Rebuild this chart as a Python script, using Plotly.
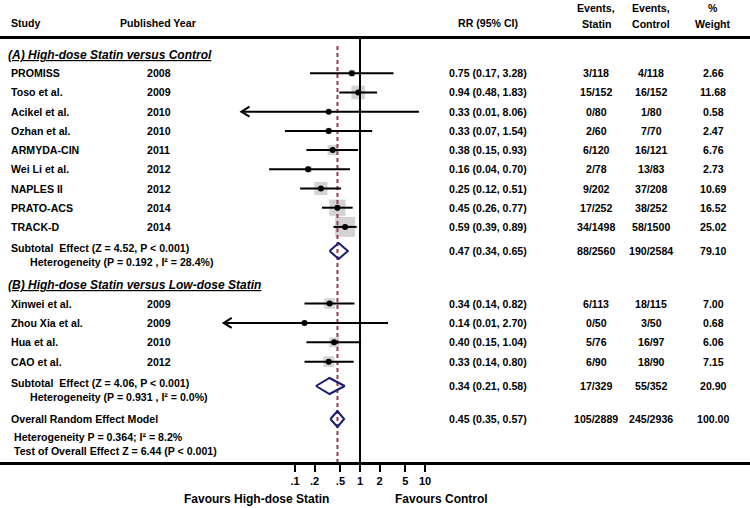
import math
import plotly.graph_objects as go

# ---------------- data ----------------
studies_A = ["PROMISS", "Toso et al.", "Acikel et al.", "Ozhan et al.", "ARMYDA-CIN",
             "Wei Li et al.", "NAPLES II", "PRATO-ACS", "TRACK-D"]
years_A = ["2008", "2009", "2010", "2010", "2011", "2012", "2012", "2014", "2014"]
rr_A = [0.75, 0.94, 0.33, 0.33, 0.38, 0.16, 0.25, 0.45, 0.59]
lo_A = [0.17, 0.48, 0.01, 0.07, 0.15, 0.04, 0.12, 0.26, 0.39]
hi_A = [3.28, 1.83, 8.06, 1.54, 0.93, 0.70, 0.51, 0.77, 0.89]
ev_statin_A = ["3/118", "15/152", "0/80", "2/60", "6/120", "2/78", "9/202", "17/252", "34/1498"]
ev_control_A = ["4/118", "16/152", "1/80", "7/70", "16/121", "13/83", "37/208", "38/252", "58/1500"]
weight_A = [2.66, 11.68, 0.58, 2.47, 6.76, 2.73, 10.69, 16.52, 25.02]
arrow_A = [None, None, 0.015, None, None, None, None, None, None]  # drawn arrow tip (clipped CI)

studies_B = ["Xinwei et al.", "Zhou Xia et al.", "Hua et al.", "CAO et al."]
years_B = ["2009", "2009", "2010", "2012"]
rr_B = [0.34, 0.14, 0.40, 0.33]
lo_B = [0.14, 0.01, 0.15, 0.14]
hi_B = [0.82, 2.70, 1.04, 0.80]
ev_statin_B = ["6/113", "0/50", "5/76", "6/90"]
ev_control_B = ["18/115", "3/50", "16/97", "18/90"]
weight_B = [7.00, 0.68, 6.06, 7.15]
arrow_B = [None, 0.008, None, None]

sub_A = dict(rr=0.47, lo=0.34, hi=0.65, es="88/2560", ec="190/2584", w=79.10,
             label="Subtotal  Effect (Z = 4.52, P < 0.001)",
             het="Heterogeneity (P = 0.192 , I² = 28.4%)")
sub_B = dict(rr=0.34, lo=0.21, hi=0.58, es="17/329", ec="55/352", w=20.90,
             label="Subtotal  Effect (Z = 4.06, P < 0.001)",
             het="Heterogeneity (P = 0.931 , I² = 0.0%)")
overall = dict(rr=0.45, lo=0.35, hi=0.57, es="105/2889", ec="245/2936", w=100.00,
               label="Overall Random Effect Model")
overall_notes = ["Heterogeneity P = 0.364; I² = 8.2%", "Test of Overall Effect Z = 6.44 (P < 0.001)"]

tick_vals = [0.1, 0.2, 0.5, 1, 2, 5, 10]
tick_text = [".1", ".2", ".5", "1", "2", "5", "10"]
favour_labels = ["Favours High-dose Statin", "Favours Control"]

# ---------------- layout constants (pixels) ----------------
W, H = 750, 508
AXIS_Y = 462
X_NULL_PX = 360
PX_PER_DEC = 65
rows_A = [73.3 + 19.2 * i for i in range(9)]
rows_B = [303.5 + 19.4 * i for i in range(4)]
Y_SEC_A, Y_SEC_B = 55, 285
Y_SUB_A, Y_SUB_B, Y_OVR = 251, 386, 419
FONT = "Liberation Sans, Arial, sans-serif"
FS = 10.6

X_STUDY, X_YEAR = 9, 145
X_RR, X_ES, X_EC, X_W = 488, 596, 651, 713


def px(x):
    return x / W


def py(y):
    return (AXIS_Y - y) / AXIS_Y


fig = go.Figure()

studies = studies_A + studies_B
years = years_A + years_B
rr = rr_A + rr_B
lo = lo_A + lo_B
hi = hi_A + hi_B
es = ev_statin_A + ev_statin_B
ec = ev_control_A + ev_control_B
wt = weight_A + weight_B
arr = arrow_A + arrow_B
rows = rows_A + rows_B

# weight boxes
fig.add_trace(go.Scatter(
    x=rr, y=rows, mode="markers",
    marker=dict(symbol="square", size=[4 * math.sqrt(w) for w in wt], color="#c0c0c0",
                line=dict(width=0)),
    hoverinfo="skip", showlegend=False))

# overall effect dashed line and null line
fig.add_trace(go.Scatter(x=[overall["rr"], overall["rr"]], y=[46, AXIS_Y], mode="lines",
                         line=dict(color="#9a3c48", width=2, dash="4px,3px"),
                         hoverinfo="skip", showlegend=False))
fig.add_trace(go.Scatter(x=[1, 1], y=[37, AXIS_Y], mode="lines",
                         line=dict(color="black", width=2),
                         hoverinfo="skip", showlegend=False))

# CI lines (with arrows when clipped)
cx, cy = [], []
f = 10 ** (8 / PX_PER_DEC)
for l, h, a, y in zip(lo, hi, arr, rows):
    left = a if a is not None else l
    cx += [left, h, None]
    cy += [y, y, None]
    if a is not None:
        cx += [a * f, a, a * f, None]
        cy += [y - 5, y, y + 5, None]
fig.add_trace(go.Scatter(x=cx, y=cy, mode="lines", line=dict(color="black", width=2),
                         hoverinfo="skip", showlegend=False))

# point estimates
fig.add_trace(go.Scatter(x=rr, y=rows, mode="markers",
                         marker=dict(symbol="circle", size=6, color="black"),
                         hoverinfo="skip", showlegend=False))

# diamonds
for d, y in [(sub_A, Y_SUB_A), (sub_B, Y_SUB_B), (overall, Y_OVR)]:
    fig.add_trace(go.Scatter(x=[d["lo"], d["rr"], d["hi"], d["rr"], d["lo"]],
                             y=[y, y - 8, y, y + 8, y], mode="lines",
                             line=dict(color="#1b1b72", width=2),
                             hoverinfo="skip", showlegend=False))

ann = []


def txt(x, y, s, anchor="left", size=FS):
    ann.append(dict(x=px(x), y=py(y), xref="paper", yref="paper", text="<b>%s</b>" % s,
                    showarrow=False, xanchor=anchor, yanchor="middle",
                    font=dict(family=FONT, size=size, color="black")))


# header
txt(X_STUDY, 23, "Study")
txt(118, 23, "Published Year")
txt(X_RR, 23, "RR (95% CI)", "center")
txt(X_ES, 8, "Events,", "center")
txt(X_ES, 24, "Statin", "center")
txt(X_EC, 8, "Events,", "center")
txt(X_EC, 24, "Control", "center")
txt(X_W, 8, "%", "center")
txt(X_W, 24, "Weight", "center")

# section titles
txt(6, Y_SEC_A, "<i><u>(A) High-dose Statin versus Control</u></i>", size=12)
txt(6, Y_SEC_B, "<i><u>(B) High-dose Statin versus Low-dose Statin</u></i>", size=12)

for s, yv, r, l, h, e1, e2, w, y in zip(studies, years, rr, lo, hi, es, ec, wt, rows):
    txt(X_STUDY, y, s)
    txt(X_YEAR, y, yv)
    txt(X_RR, y, "%.2f (%.2f, %.2f)" % (r, l, h), "center")
    txt(X_ES, y, e1, "center")
    txt(X_EC, y, e2, "center")
    txt(X_W, y, "%.2f" % w, "center")

for d, y in [(sub_A, Y_SUB_A), (sub_B, Y_SUB_B)]:
    txt(X_STUDY, y - 3, d["label"])
    txt(28, y + 11, d["het"])
for d, y in [(sub_A, Y_SUB_A), (sub_B, Y_SUB_B), (overall, Y_OVR)]:
    txt(X_RR, y, "%.2f (%.2f, %.2f)" % (d["rr"], d["lo"], d["hi"]), "center")
    txt(X_ES, y, d["es"], "center")
    txt(X_EC, y, d["ec"], "center")
    txt(X_W, y, "%.2f" % d["w"], "center")
txt(X_STUDY, Y_OVR, overall["label"])
txt(12, 437, overall_notes[0])
txt(12, 451, overall_notes[1])

# footer
txt(256, 499, favour_labels[0], "center", size=12)
txt(441, 499, favour_labels[1], "center", size=12)

fig.update_layout(
    width=W, height=H,
    margin=dict(l=0, r=0, t=0, b=H - AXIS_Y),
    paper_bgcolor="white", plot_bgcolor="white",
    showlegend=False,
    hovermode=False,
    annotations=ann,
    shapes=[dict(type="line", xref="paper", yref="paper", x0=0, x1=1, y0=py(37.5), y1=py(37.5),
                 line=dict(color="black", width=3))],
    xaxis=dict(type="log", range=[-X_NULL_PX / PX_PER_DEC, (W - X_NULL_PX) / PX_PER_DEC],
               tickvals=tick_vals, ticktext=["<b>%s</b>" % t for t in tick_text],
               ticks="outside", ticklen=7, tickwidth=2, tickcolor="black",
               showline=True, linewidth=2.5, linecolor="black",
               showgrid=False, zeroline=False, fixedrange=True,
               tickfont=dict(family=FONT, size=11, color="black")),
    yaxis=dict(range=[AXIS_Y, 0], visible=False, showgrid=False, zeroline=False, fixedrange=True),
)

fig.write_html("out.html", config={"displayModeBar": False, "staticPlot": True},
               post_script="document.body.style.margin='0';document.body.style.overflow='hidden';")
